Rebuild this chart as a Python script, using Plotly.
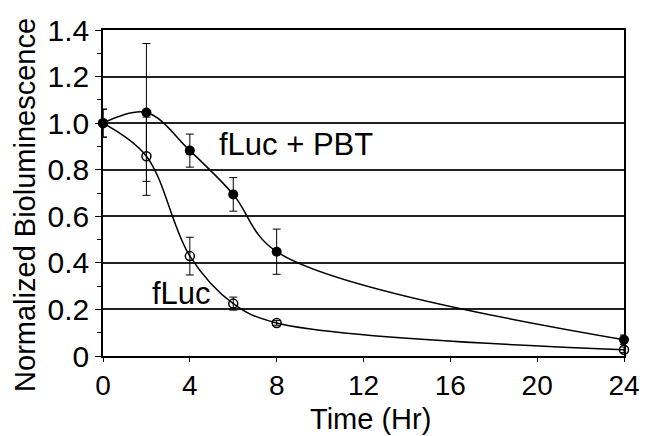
import plotly.graph_objects as go

time_hr = [0, 2, 4, 6, 8, 24]
pbt_vals = [1.0, 1.046, 0.882, 0.694, 0.448, 0.070]
pbt_err = [0.06, 0.296, 0.071, 0.072, 0.097, 0.02]
fluc_vals = [1.0, 0.858, 0.429, 0.225, 0.142, 0.027]
fluc_err = [0.06, 0.168, 0.081, 0.028, 0.01, 0.012]

y_ticks = [0, 0.2, 0.4, 0.6, 0.8, 1.0, 1.2, 1.4]
y_labels = ["0", "0.2", "0.4", "0.6", "0.8", "1.0", "1.2", "1.4"]
x_ticks = [0, 4, 8, 12, 16, 20, 24]

FONT = "Liberation Sans, Arial, sans-serif"
B = 80
PB = 436 - B  # plot bottom pixel
PH = PB - 30

fig = go.Figure()
fig.add_trace(go.Scatter(
    x=time_hr, y=fluc_vals, mode="lines+markers",
    line=dict(color="black", width=1.5, shape="spline", smoothing=1.0),
    marker=dict(symbol="circle-open", size=9, color="black", line=dict(width=1.5)),
    error_y=dict(type="data", array=fluc_err, color="black", thickness=1, width=4),
    cliponaxis=False, showlegend=False))
fig.add_trace(go.Scatter(
    x=time_hr, y=pbt_vals, mode="lines+markers",
    line=dict(color="black", width=1.5, shape="spline", smoothing=1.0),
    marker=dict(symbol="circle", size=10, color="black"),
    error_y=dict(type="data", array=pbt_err, color="black", thickness=1, width=4),
    cliponaxis=False, showlegend=False))

fig.add_annotation(x=8.9, y=0.91, text="fLuc + PBT", showarrow=False,
                   font=dict(family=FONT, size=31, color="black"))
fig.add_annotation(x=3.6, y=0.27, text="fLuc", showarrow=False,
                   font=dict(family=FONT, size=31, color="black"))

# axis titles
fig.add_annotation(xref="paper", yref="paper", x=(374 - 103) / 527, y=(PB - 437) / PH,
                   xanchor="center", yanchor="bottom", text="Time (Hr)", showarrow=False,
                   font=dict(family=FONT, size=29, color="black"))
fig.add_annotation(xref="paper", yref="paper", x=(24 - 103) / 527, y=(PB - 205) / PH,
                   xanchor="center", yanchor="middle", textangle=-90,
                   text="Normalized Bioluminescence", showarrow=False,
                   font=dict(family=FONT, size=29, color="black"))

fig.update_layout(
    width=652, height=436,
    margin=dict(l=103, r=22, t=30, b=B),
    paper_bgcolor="white", plot_bgcolor="white",
    font=dict(family=FONT, size=30, color="black"),
    xaxis=dict(range=[0, 24], tickvals=x_ticks, ticks="outside", ticklen=4,
               tickcolor="black", showline=True, linecolor="black", linewidth=1.5,
               mirror=True, showgrid=False, zeroline=False,
               tickfont=dict(family=FONT, size=28)),
    yaxis=dict(range=[0, 1.4], tickvals=y_ticks, ticktext=y_labels,
               ticks="outside", ticklen=6, tickcolor="black",
               minor=dict(ticks="outside", dtick=0.1, ticklen=4, tickcolor="black", showgrid=False),
               showline=True, linecolor="black", linewidth=1.5, mirror=True,
               showgrid=True, gridcolor="#222222", gridwidth=1.5, zeroline=False,
               tickfont=dict(family=FONT, size=30)),
)

fig.write_html("out.html")
